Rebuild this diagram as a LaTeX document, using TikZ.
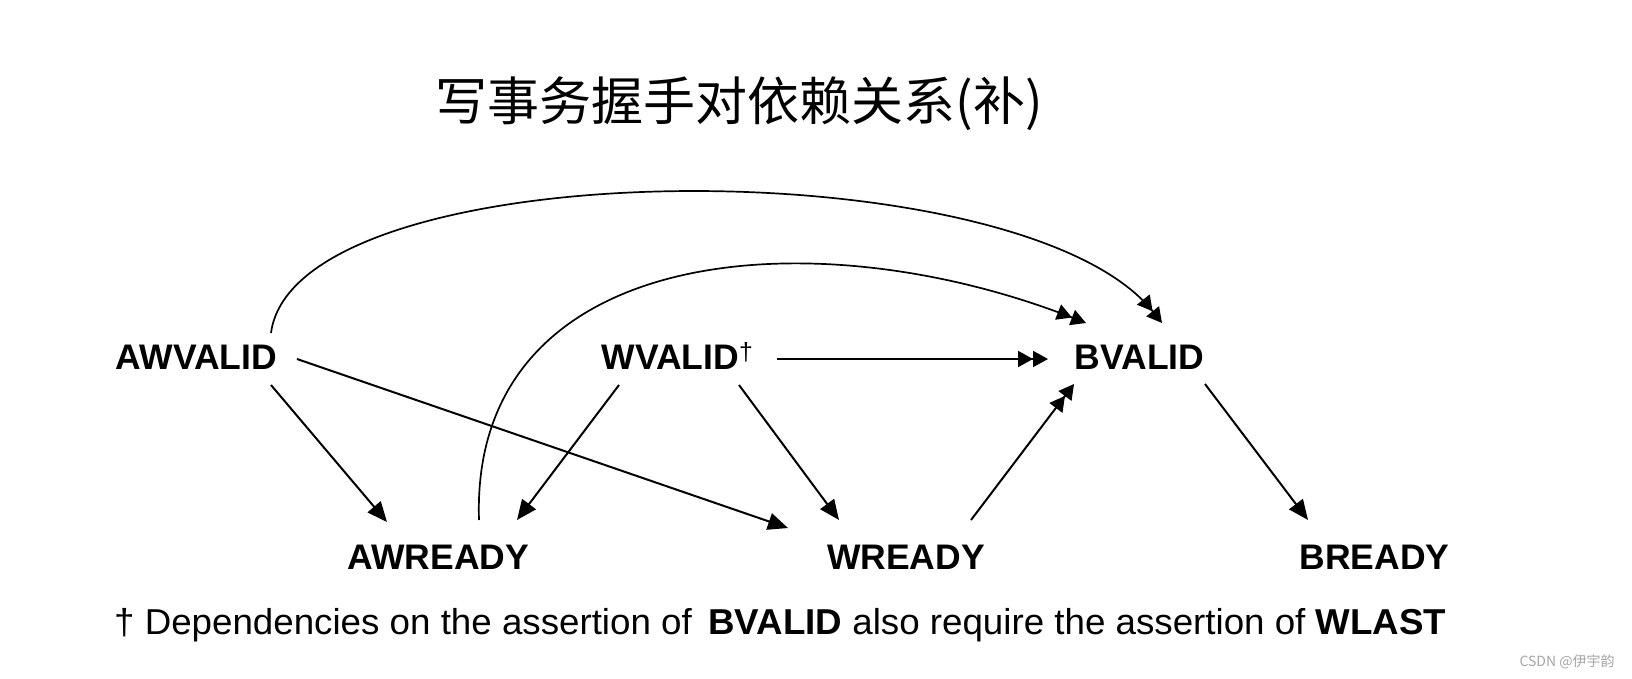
\documentclass[tikz,border=0pt]{standalone}
\usepackage{fontspec}
\setmainfont{Liberation Sans}
\newfontfamily\cjk{Noto Sans CJK SC}
\usetikzlibrary{arrows.meta,calc}
\tikzset{
  lbl/.style={font=\fontsize{35.5}{40}\selectfont\bfseries, inner sep=0pt, text height=25.5pt, text depth=0pt, anchor=center},
  arr/.style={line width=2pt, -{Triangle[length=20pt,width=17pt]}},
  darr/.style={line width=2pt, -{Triangle[length=15pt,width=16pt]Triangle[length=15pt,width=16pt]}},
  carr/.style={line width=1.7pt, -{Triangle[length=15pt,width=16pt]Triangle[length=15pt,width=16pt]}},
}
\begin{document}
\begin{tikzpicture}[x=1pt,y=-1pt]
\useasboundingbox (0,0) rectangle (1632,678);
\fill[white] (0,0) rectangle (1632,678);
\node[font=\cjk\fontsize{52}{56}\selectfont, inner sep=0pt] (title) at (739,104) {写事务握手对依赖关系(补)};
\node[lbl] (awv) at (196.5,357) {AWVALID};
\node[lbl] (wv) at (677.5,357) {WVALID\textsuperscript{\mdseries†}};
\node[lbl] (bv) at (1139.5,357) {BVALID};
\node[lbl] (awr) at (438.5,557) {AWREADY};
\node[lbl] (wr) at (906,557) {WREADY};
\node[lbl] (br) at (1374.5,557) {BREADY};
\node[font=\fontsize{36}{40}\selectfont, inner sep=0pt, anchor=base west, xscale=1.02] (note) at (114,634)
  {† Dependencies on the assertion of\, \textbf{BVALID} also require the assertion of \textbf{WLAST}};
\node[font=\cjk\fontsize{14}{16}\selectfont, text=black!35, inner sep=0pt] (wm) at (1567,662) {CSDN @伊宇韵};
% straight arrows
\draw[arr] ($(awv)+(74.5,28)$) -- ($(awr)+(-51.5,-35)$);
\draw[arr] ($(awv)+(100.5,2)$) -- ($(wr)+(-118,-29)$);
\draw[arr] ($(wv)+(-58.5,28)$) -- ($(awr)+(78.5,-37)$);
\draw[arr] ($(wv)+(61.5,28)$) -- ($(wr)+(-67,-37)$);
\draw[darr] ($(wv)+(99.5,2)$) -- ($(bv)+(-91.5,2)$);
\draw[darr] ($(wr)+(65,-37)$) -- ($(bv)+(-65.5,27)$);
\draw[arr] ($(bv)+(65.5,27)$) -- ($(br)+(-66.5,-37)$);
% curves
\draw[carr] ($(awv)+(74.5,-24)$) .. controls (295,150) and (1020,145) .. ($(bv)+(22.5,-34)$);
\draw[carr] ($(awr)+(40.5,-37)$) .. controls (470,245) and (810,215) .. ($(bv)+(-53.5,-34)$);
\end{tikzpicture}
\end{document}
